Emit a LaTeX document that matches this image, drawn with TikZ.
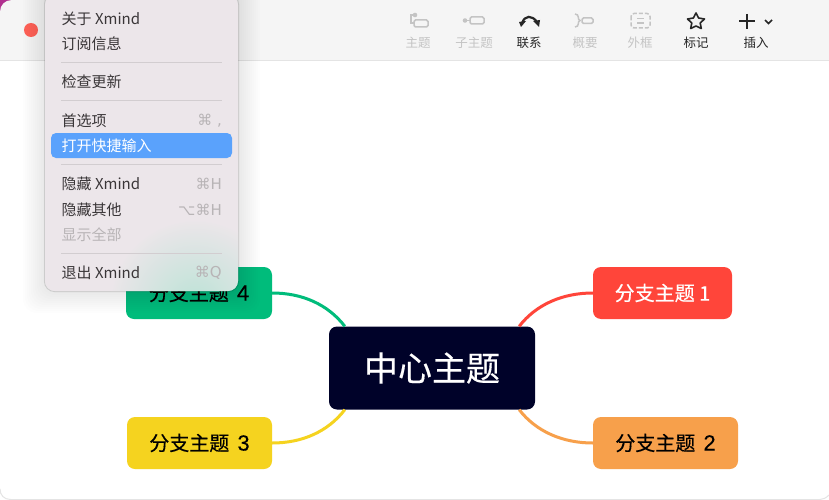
\documentclass[tikz,border=0pt]{standalone}
\usepackage{fontspec}
\setmainfont{Noto Sans CJK SC}
\newfontfamily\symfont{DejaVu Sans}
\newfontfamily\topicfont[FakeBold=0.35]{Noto Sans CJK SC}
\newfontfamily\digitfont[FakeBold=0.35]{Liberation Sans}
\newcommand{\dgt}[1]{\hspace{2pt}{\digitfont\fontsize{22}{22}\selectfont #1}}
\usetikzlibrary{calc}
\definecolor{menubg}{HTML}{ECE6EA}
\definecolor{menuink}{HTML}{3A3638}
\definecolor{menudim}{HTML}{B8B4B6}
\definecolor{sepc}{HTML}{D2CDD0}
\definecolor{barbg}{HTML}{F5F5F5}
\definecolor{barln}{HTML}{E4E4E4}
\definecolor{dimic}{HTML}{C4C4C4}
\definecolor{darkic}{HTML}{262626}
\definecolor{hl}{HTML}{5AA2FC}
\definecolor{cred}{HTML}{FF453A}
\definecolor{corange}{HTML}{F7A04B}
\definecolor{cyellow}{HTML}{F5D31F}
\definecolor{cgreen}{HTML}{00BC7B}
\definecolor{cnavy}{HTML}{000229}
\definecolor{cornerc}{HTML}{B0308F}
\tikzset{
 x=1pt,y=-1pt,
 topic/.style={rounded corners=8pt,minimum height=52pt,inner sep=0pt,font=\topicfont\fontsize{20}{20}\selectfont},
 link/.style={line width=3pt},
 menuitem/.style={anchor=west,inner sep=0pt,text=menuink,font=\fontsize{15}{15}\selectfont},
 menukey/.style={anchor=east,inner sep=0pt,text=menudim,font=\symfont\fontsize{15}{15}\selectfont},
 sepline/.style={sepc,line width=1pt},
 barlabel/.style={inner sep=0pt,font=\fontsize{12.5}{13}\selectfont},
 dimicon/.style={dimic,line width=1.5pt},
 darkicon/.style={darkic,line width=1.6pt},
}
\begin{document}
\begin{tikzpicture}
\useasboundingbox (0,0) rectangle (829,500);
\fill[white] (0,0) rectangle (829,500);
% window
\fill[cornerc] (0,0) rectangle (12,12);
\fill[barbg] (0,12) .. controls (0,5) and (5,0) .. (12,0) -- (829,0) -- (829,60) -- (0,60) -- cycle;
\draw[barln,line width=1pt] (0,60.5) -- (829,60.5);
\draw[barln,line width=1pt] (0,489) .. controls (0,495) and (4,499.5) .. (10.5,499.5) -- (820,499.5) .. controls (823,499.5) and (826,498) .. (829,495);
\fill[cred!85!white] (31,30) circle[radius=7];
% topics
\node[topic,fill=cnavy,text=white,minimum width=206pt,minimum height=83pt,font=\topicfont\fontsize{34}{34}\selectfont] (center) at (432,368) {中心主题};
\node[topic,fill=cred,text=white,minimum width=139pt] (t1) at (662.5,293) {分支主题 1};
\node[topic,fill=corange,text=black,minimum width=145pt] (t2) at (665.5,443) {分支主题\dgt{ 2}};
\node[topic,fill=cyellow,text=black,minimum width=145pt] (t3) at (199.5,443) {分支主题\dgt{ 3}};
\node[topic,fill=cgreen,text=black,minimum width=146pt] (t4) at (199,293) {分支主题\dgt{ 4}};
% connectors
\draw[link,cred] ($(center.north east)+(-16,0)$) .. controls +(17,-22) and +(-30,0) .. (t1.west);
\draw[link,corange] ($(center.south east)+(-16,0)$) .. controls +(17,22) and +(-30,0) .. (t2.west);
\draw[link,cyellow] ($(center.south west)+(16,0)$) .. controls +(-17,22) and +(30,0) .. (t3.east);
\draw[link,cgreen] ($(center.north west)+(16,0)$) .. controls +(-17,-22) and +(30,0) .. (t4.east);
% menu shadow
\foreach \g in {22,20,...,2}{
 \fill[black,opacity=0.006,rounded corners=14pt] (45-\g,-30) rectangle (238+\g,291+\g);
}
\draw[black,opacity=.12,line width=1pt,rounded corners=10pt] (44.5,-6) rectangle (238.5,291.5);
% menu
\fill[menubg,rounded corners=10pt] (45,-5) rectangle (238,291);
\begin{scope}
\clip[rounded corners=10pt] (45,-5) rectangle (238,291);
\shade[inner color=cgreen!45!white,outer color=menubg,opacity=.5] (195,305) circle[radius=85];
\end{scope}
\fill[hl,rounded corners=5pt] (51,133) rectangle (232,158);
\node[menuitem] (m1) at (61.5,19) {关于 Xmind};
\node[menuitem] (m2) at (61.5,44) {订阅信息};
\draw[sepline] (61,63) -- (222,63);
\node[menuitem] (m3) at (61.5,82) {检查更新};
\draw[sepline] (61,101) -- (222,101);
\node[menuitem] (m4) at (61.5,120.5) {首选项};
\node[menukey] (k4) at (222,121) {⌘ ,};
\node[menuitem,text=white] (m5) at (61.5,145.5) {打开快捷输入};
\draw[sepline] (61,164.5) -- (222,164.5);
\node[menuitem] (m6) at (61.5,184) {隐藏 Xmind};
\node[menukey] (k6) at (222,184) {⌘H};
\node[menuitem] (m7) at (61.5,209.5) {隐藏其他};
\node[menukey] (k7) at (222,209.5) {⌥⌘H};
\node[menuitem,text=menudim] (m8) at (61.5,235) {显示全部};
\draw[sepline] (61,253.5) -- (222,253.5);
\node[menuitem] (m9) at (61.5,273) {退出 Xmind};
\node[menukey] (k9) at (222,273) {⌘Q};
% toolbar labels
\node[barlabel,text=dimic] (b1) at (418,43) {主题};
\node[barlabel,text=dimic] (b2) at (474,43) {子主题};
\node[barlabel,text=darkic] (b3) at (529,43) {联系};
\node[barlabel,text=dimic] (b4) at (585,43) {概要};
\node[barlabel,text=dimic] (b5) at (640,43) {外框};
\node[barlabel,text=darkic] (b6) at (696,43) {标记};
\node[barlabel,text=darkic] (b7) at (756,43) {插入};
% toolbar icons
\draw[dimicon,rounded corners=1.5pt] (414,20) rectangle (428,27);
\draw[dimicon] (415,15) -- (411,15) -- (411,23) -- (414,23);
\fill[dimic] (415,15) circle[radius=2.3];
\draw[dimicon,rounded corners=1.5pt] (470,17) rectangle (484,24);
\draw[dimicon] (465,20.5) -- (470,20.5);
\fill[dimic] (465,20.5) circle[radius=2.3];
\draw[darkicon,line width=2.2pt] (522,23) .. controls (525,15) and (532,15) .. (537,22);
\fill[darkic] (519,22) -- (526,21) -- (521,27) -- cycle;
\fill[darkic] (539,27) -- (533,21) -- (540,20) -- cycle;
\draw[dimicon] (575,14) .. controls (580,14) and (577,20) .. (580,20.5) .. controls (577,21) and (580,27) .. (575,27);
\draw[dimicon,rounded corners=1.5pt] (582,18) rectangle (593,23.5);
\draw[dimicon,dash pattern=on 4pt off 2pt,rounded corners=3pt] (631,13.5) rectangle (650,28);
\draw[dimicon] (637,18.5) -- (644,18.5) (637,23) -- (644,23);
\draw[darkicon,line join=round] (696,13) -- (698.6,18) -- (704.5,19) -- (700.2,23) -- (701.3,28.5) -- (696,26) -- (690.7,28.5) -- (691.8,23) -- (687.5,19) -- (693.4,18) -- cycle;
\draw[darkicon,line width=2pt] (747,14) -- (747,29) (739,21.5) -- (755,21.5);
\draw[darkicon] (765,20) -- (768.5,23.5) -- (772,20);
\end{tikzpicture}
\end{document}
